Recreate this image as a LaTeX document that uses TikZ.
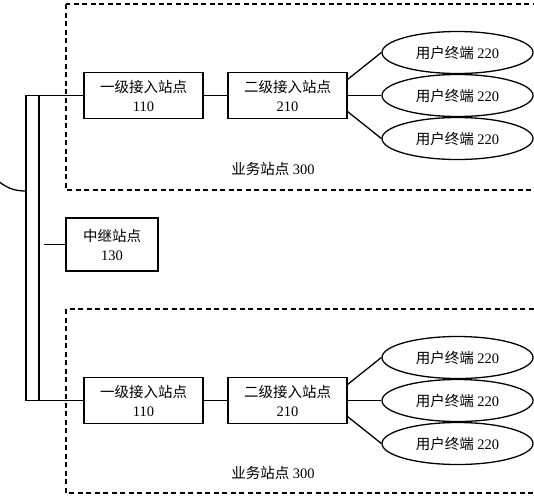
\documentclass[tikz,border=0pt]{standalone}
\usepackage{fontspec}
\setmainfont{Liberation Serif}
\newfontfamily\cjk{Noto Sans CJK SC}
\usetikzlibrary{shapes.geometric}
\newcommand{\zh}[1]{{\cjk #1}}

\tikzset{
  stationbox/.style={draw, line width=1.3pt, minimum width=119pt, minimum height=46pt, align=center, inner sep=0pt},
  relaybox/.style={draw, line width=1.3pt, minimum width=92pt, minimum height=53pt, align=center, inner sep=0pt},
  terminal/.style={draw, ellipse, line width=1.3pt, minimum width=151pt, minimum height=42pt, inner sep=0pt},
  siteframe/.style={draw, line width=1.2pt, dash pattern=on 5pt off 3.5pt},
  link/.style={line width=1.3pt}
}

\begin{document}
\begin{tikzpicture}[x=1pt, y=-1pt, font=\fontsize{14.5}{19}\selectfont]
\path[use as bounding box, clip] (0,0) rectangle (534,499);

% service sites
\draw[siteframe] (66,4) rectangle (545,190);
\draw[siteframe] (66,309) rectangle (545,493);
\node (s1) at (273,169) {\zh{业务站点} 300};
\node (s2) at (273,473) {\zh{业务站点} 300};

% stations and terminals
\foreach \i/\y in {1/95.5, 2/400.5} {
  \node[stationbox] (a\i) at (143.5,\y) {\zh{一级接入站点}\\110};
  \node[stationbox] (b\i) at (287.5,\y) {\zh{二级接入站点}\\210};
  \draw[link] (a\i) -- (b\i);
  \foreach \j/\d/\a in {1/-43/15, 2/0/0, 3/43/-15} {
    \node[terminal] (t\i\j) at (457.5,\y+\d) {\zh{用户终端} 220};
    \draw[link] (b\i.\a) -- (t\i\j.west);
  }
}

% relay
\node[relaybox] (r) at (112,244.5) {\zh{中继站点}\\130};

% bus
\coordinate (o1) at (26,95.5);
\coordinate (o2) at (26,400.5);
\coordinate (i1) at (39,95.5);
\coordinate (i2) at (39,400.5);
\coordinate (rj) at (44,244.5);
\coordinate (c) at (26,191);
\draw[link] (a1.west) -- (o1) -- (o2) -- (a2.west);
\draw[link] (i1) -- (i2);
\draw[link] (rj) -- (r.west);
\draw[link] (c) .. controls (14,191) and (6,188) .. (-4,179);
\end{tikzpicture}
\end{document}
